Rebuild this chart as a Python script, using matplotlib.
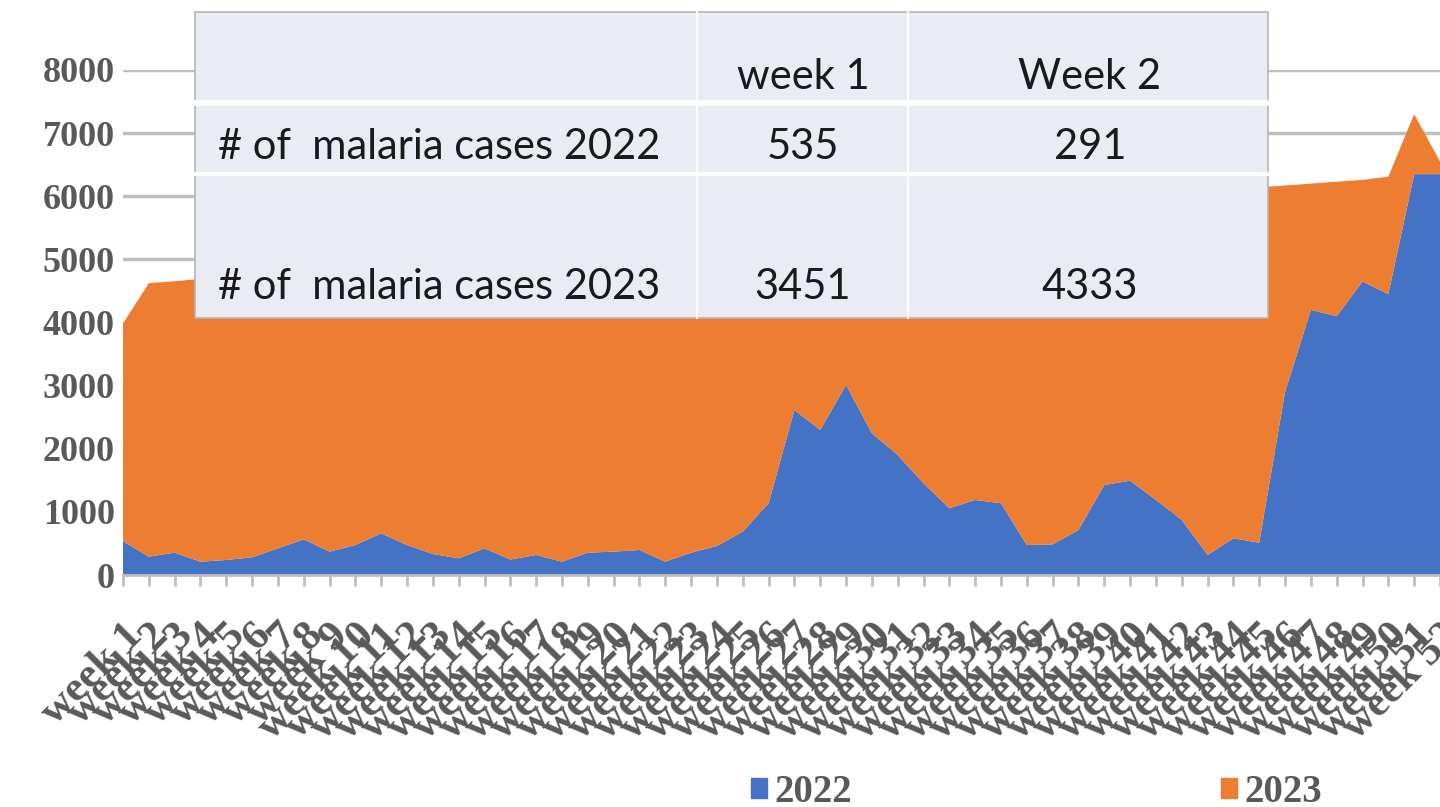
import numpy as np
import matplotlib
matplotlib.use('Agg')
import matplotlib.pyplot as plt
from matplotlib.patches import Rectangle, Patch

# weekly malaria cases (stacked area)
weeks = list(range(1, 53))
week_labels = ['week %d' % w for w in weeks]

cases_2022 = [535, 291, 353, 211, 238, 280, 423, 565, 370, 475,
              660, 475, 333, 264, 423, 245, 317, 211, 354, 370,
              396, 211, 354, 460, 687, 1136, 2615, 2298, 3011, 2245,
              1902, 1453, 1057, 1189, 1136, 475, 486, 713, 1426, 1494,
              1189, 872, 317, 581, 512, 2900, 4200, 4100, 4650, 4450,
              6350, 6350]

cases_2023 = [3451, 4333, 4300, 4480, 4520, 4490, 4410, 4300, 4560, 4500,
              4370, 4580, 4750, 4820, 4690, 4900, 4840, 5010, 4920, 4900,
              5100, 4980, 4950, 4870, 4700, 4300, 3300, 3700, 3100, 3800,
              4200, 4650, 5000, 4900, 5000, 5600, 5650, 5450, 4700, 4650,
              4950, 5250, 5800, 5550, 5630, 3270, 2000, 2130, 1610, 1860,
              950, 200]

series_names = ['2022', '2023']
table_cols = ['week 1', 'Week 2']
table_rows = ['# of  malaria cases 2022', '# of  malaria cases 2023']

blue = '#4472C4'
orange = '#ED7D31'
gray_txt = '#595959'
serif = 'Liberation Serif'

W, H = 1440, 807
fig = plt.figure(figsize=(W / 100, H / 100), dpi=100)
ax = fig.add_axes([123 / W, 1 - 575 / H, (W - 123) / W, (575 - 70) / H])

ax.stackplot(weeks, cases_2022, cases_2023, colors=[blue, orange])
ax.set_xlim(1, 52)
ax.set_ylim(0, 8000)
ax.set_yticks(range(0, 8001, 1000))
ax.yaxis.grid(True, color='#bfbfbf', lw=2.5)
ax.set_axisbelow(True)
for s in ['left', 'right', 'top']:
    ax.spines[s].set_visible(False)
ax.spines['bottom'].set_color('#bfbfbf')
ax.spines['bottom'].set_linewidth(2)

ax.tick_params(axis='y', length=0, pad=6, labelsize=26, labelcolor=gray_txt)
ax.set_xticks(weeks)
ax.set_xticklabels(week_labels, rotation=45, ha='right', rotation_mode='anchor',
                   fontsize=31, color=gray_txt)
ax.tick_params(axis='x', length=8, width=2, color='#bfbfbf', pad=22)
for lbl in ax.get_yticklabels() + ax.get_xticklabels():
    lbl.set_fontfamily(serif)
    lbl.set_fontweight('bold')

# data table box drawn over the chart
tab = fig.add_axes([0, 0, 1, 1])
tab.set_xlim(0, W)
tab.set_ylim(H, 0)
tab.axis('off')
tab.add_patch(Rectangle((195, 12), 1073, 306, fc='#e9ecf3', ec='#b5b5b5', lw=1.2))
tab.plot([195, 1268], [103, 103], color='white', lw=4)
tab.plot([195, 1268], [174, 174], color='white', lw=3)
tab.plot([697, 697], [12, 318], color='white', lw=1.5)
tab.plot([908, 908], [12, 318], color='white', lw=1.5)

tfont = dict(family='Lato', fontsize=30, color='#1a1a1a', va='center')
col_x = [803, 1090]
for cx, name in zip(col_x, table_cols):
    tab.text(cx, 77, name, ha='center', **tfont)
row_y = [147, 287]
for ry, name, vals in zip(row_y, table_rows, [cases_2022, cases_2023]):
    tab.text(218, ry, name, ha='left', **tfont)
    for cx, v in zip(col_x, vals[:2]):
        tab.text(cx, ry, str(v), ha='center', **tfont)

handles = [Patch(color=blue), Patch(color=orange)]
fig.legend(handles, series_names, loc='center', bbox_to_anchor=(0.72, 0.018),
           ncol=2, frameon=False, handlelength=0.4, handleheight=0.4,
           handletextpad=0.2, columnspacing=9.5,
           prop=dict(family=serif, weight='bold', size=28), labelcolor=gray_txt)

fig.savefig('out.png', dpi=100)
